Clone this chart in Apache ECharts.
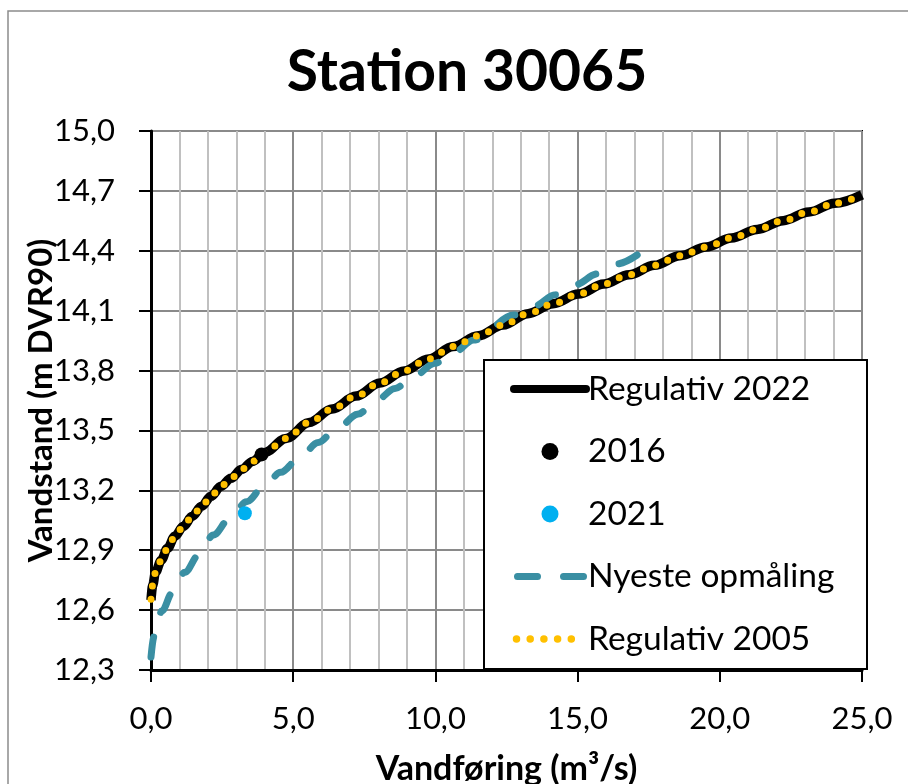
<!DOCTYPE html>
<html>
<head>
<meta charset="utf-8">
<script src="https://cdn.jsdelivr.net/npm/echarts@6/dist/echarts.min.js"></script>
<style>
  html, body { margin: 0; padding: 0; background: #ffffff; }
  #chart { width: 908px; height: 784px; }
</style>
</head>
<body>
<div id="chart"></div>
<script>
// Vandføring (m³/s) og vandstand (m DVR90) for Station 30065
const flowReg2022 = [0, 0.06, 0.16, 0.36, 0.58, 0.84, 1.14, 1.45, 1.78, 2.11, 2.46, 2.81, 3.19, 3.57, 4.0, 4.75, 5.56, 6.37, 7.21, 8.05, 8.9, 9.76, 10.63, 11.5, 12.38, 13.25, 14.14, 15.03, 15.92, 16.81, 17.7, 18.6, 19.52, 20.41, 21.31, 22.23, 23.13, 24.04, 25.0];
const stageReg2022 = [12.65, 12.725, 12.79, 12.85, 12.91, 12.97, 13.02, 13.07, 13.12, 13.17, 13.22, 13.26, 13.305, 13.345, 13.39, 13.46, 13.54, 13.607, 13.672, 13.738, 13.798, 13.858, 13.92, 13.974, 14.028, 14.085, 14.135, 14.183, 14.233, 14.28, 14.327, 14.375, 14.419, 14.464, 14.507, 14.551, 14.594, 14.638, 14.68];

const flowReg2005 = [0, 0.06, 0.16, 0.36, 0.58, 0.84, 1.14, 1.45, 1.78, 2.11, 2.46, 2.81, 3.19, 3.57, 4.0, 4.75, 5.56, 6.37, 7.21, 8.05, 8.9, 9.76, 10.63, 11.5, 12.38, 13.25, 14.14, 15.03, 15.92, 16.81, 17.7, 18.6, 19.52, 20.41, 21.31, 22.23, 23.13, 24.04, 25.0];
const stageReg2005 = [12.655, 12.725, 12.79, 12.85, 12.91, 12.97, 13.02, 13.07, 13.12, 13.17, 13.22, 13.26, 13.305, 13.345, 13.39, 13.46, 13.54, 13.607, 13.672, 13.738, 13.798, 13.858, 13.92, 13.974, 14.028, 14.085, 14.135, 14.183, 14.233, 14.28, 14.327, 14.375, 14.419, 14.464, 14.507, 14.551, 14.594, 14.638, 14.68];

const flowSurvey = [0, 0.11, 0.38, 0.75, 1.19, 1.7, 2.19, 2.78, 3.36, 3.95, 4.56, 5.21, 5.88, 6.5, 7.29, 7.87, 8.58, 9.2, 9.98, 10.6, 11.35, 12.76, 13.46, 14.22, 14.93, 15.69, 16.39, 17.21];
const stageSurvey = [12.365, 12.47, 12.595, 12.687, 12.79, 12.88, 12.976, 13.06, 13.143, 13.215, 13.29, 13.36, 13.44, 13.505, 13.582, 13.644, 13.71, 13.766, 13.836, 13.886, 13.953, 14.078, 14.123, 14.18, 14.23, 14.284, 14.334, 14.39];

const point2016 = [3.89, 13.38];
const point2021 = [3.30, 13.085];

const xTicks = { min: 0, max: 25, step: 5 };
const yTicks = { min: 12.3, max: 15.0, step: 0.3 };

const pairs = (xs, ys) => xs.map((x, i) => [x, ys[i]]);
const comma = v => v.toFixed(1).replace('.', ',');

const FONT = 'Lato, "Open Sans", sans-serif';

const BLACK = '#000000';
const TEAL = '#3a8fa3';
const GOLD = '#ffc000';
const SKY = '#00b0f0';

const hideSymbol = { opacity: 0 };

const chart = echarts.init(document.getElementById('chart'), null, { renderer: 'canvas' });

chart.setOption({
  animation: false,
  backgroundColor: '#ffffff',
  title: {
    text: 'Station 30065',
    left: 462,
    top: 34,
    textAlign: 'center',
    textStyle: { fontFamily: FONT, fontWeight: 'bold', fontSize: 57, color: '#000', lineHeight: 68 }
  },
  graphic: [
    {
      type: 'rect', z: 0, silent: true,
      shape: { x: 8, y: 11, width: 1200, height: 1200 },
      style: { fill: 'none', stroke: '#8c8c8c', lineWidth: 1.5 }
    },
    {
      type: 'rect', z: 50, silent: true,
      shape: { x: 484, y: 360, width: 383, height: 309 },
      style: { fill: '#ffffff', stroke: '#000000', lineWidth: 2 }
    }
  ],
  legend: {
    z: 60,
    data: [
      { name: 'Regulativ 2022', itemStyle: hideSymbol,
        lineStyle: { color: BLACK, width: 8, cap: 'round', type: 'solid' } },
      { name: '2016', icon: 'circle' },
      { name: '2021', icon: 'circle' },
      { name: 'Nyeste opmåling', itemStyle: hideSymbol,
        lineStyle: { color: TEAL, width: 7, cap: 'round', type: [20, 26], dashOffset: -3.5 } },
      { name: 'Regulativ 2005', itemStyle: hideSymbol,
        lineStyle: { color: GOLD, width: 7.5, cap: 'round',
          type: [0, 13.7, 0, 13.7, 0, 13.7, 0, 13.7, 0, 40], dashOffset: -2.5 } }
    ],
    orient: 'vertical',
    left: 484,
    top: 360,
    padding: [9, 20, 10, 26],
    itemWidth: 72,
    itemHeight: 17,
    itemGap: 22.5,
    textStyle: { fontFamily: FONT, fontSize: 33.5, color: '#000', lineHeight: 40, padding: [0, 0, 0, -3] }
  },
  grid: {
    left: 151, top: 131, right: 46, bottom: 114,
    outerBoundsMode: 'none',
    containLabel: false,
    show: true, borderColor: '#000', borderWidth: 2
  },
  xAxis: {
    type: 'value',
    min: xTicks.min, max: xTicks.max, interval: xTicks.step,
    name: 'Vandføring (m³/s)',
    nameLocation: 'middle',
    nameGap: 82,
    nameMoveOverlap: false,
    nameTextStyle: { fontFamily: FONT, fontWeight: 'bold', fontSize: 34, color: '#000' },
    axisLine: { show: true, onZero: false, lineStyle: { color: '#000', width: 3 } },
    axisTick: { show: true, inside: false, length: 12, lineStyle: { color: '#000', width: 2 } },
    axisLabel: { fontFamily: FONT, fontSize: 31, color: '#000', margin: 33, formatter: comma },
    splitLine: { show: true, lineStyle: { color: '#8a8a8a', width: 2 } },
    minorTick: { show: false, splitNumber: 5 },
    minorSplitLine: { show: true, lineStyle: { color: '#c0c0c0', width: 2 } }
  },
  yAxis: {
    type: 'value',
    min: yTicks.min, max: yTicks.max, interval: yTicks.step,
    name: 'Vandstand (m DVR90)',
    nameLocation: 'middle',
    nameRotate: 90,
    nameGap: 93,
    nameMoveOverlap: false,
    nameTextStyle: { fontFamily: FONT, fontWeight: 'bold', fontSize: 33, color: '#000' },
    axisLine: { show: true, onZero: false, lineStyle: { color: '#000', width: 3 } },
    axisTick: { show: true, inside: false, length: 12, lineStyle: { color: '#000', width: 2 } },
    axisLabel: { fontFamily: FONT, fontSize: 31, color: '#000', margin: 36, formatter: comma },
    splitLine: { show: true, lineStyle: { color: '#8a8a8a', width: 2 } }
  },
  series: [
    {
      name: 'Regulativ 2022',
      type: 'line',
      z: 2,
      data: pairs(flowReg2022, stageReg2022),
      showSymbol: false, symbol: 'none',
      smooth: 0.35, smoothMonotone: 'x',
      lineStyle: { color: BLACK, width: 9.5, cap: 'butt' },
      itemStyle: { color: BLACK }
    },
    {
      name: 'Nyeste opmåling',
      type: 'line',
      z: 2,
      data: pairs(flowSurvey, stageSurvey),
      showSymbol: false, symbol: 'none',
      smooth: 0.35, smoothMonotone: 'x',
      lineStyle: { color: TEAL, width: 7, type: [20, 26], cap: 'round' },
      itemStyle: { color: TEAL }
    },
    {
      name: 'Regulativ 2005',
      type: 'line',
      z: 3,
      data: pairs(flowReg2005, stageReg2005),
      showSymbol: false, symbol: 'none',
      smooth: 0.35, smoothMonotone: 'x',
      lineStyle: { color: GOLD, width: 7, type: [0, 13], cap: 'round' },
      itemStyle: { color: GOLD }
    },
    {
      name: '2016',
      type: 'scatter',
      z: 4,
      data: [point2016],
      symbol: 'circle', symbolSize: 14,
      itemStyle: { color: BLACK, opacity: 1 }
    },
    {
      name: '2021',
      type: 'scatter',
      z: 4,
      data: [point2021],
      symbol: 'circle', symbolSize: 14,
      itemStyle: { color: SKY, opacity: 1 }
    }
  ]
});
</script>
</body>
</html>
